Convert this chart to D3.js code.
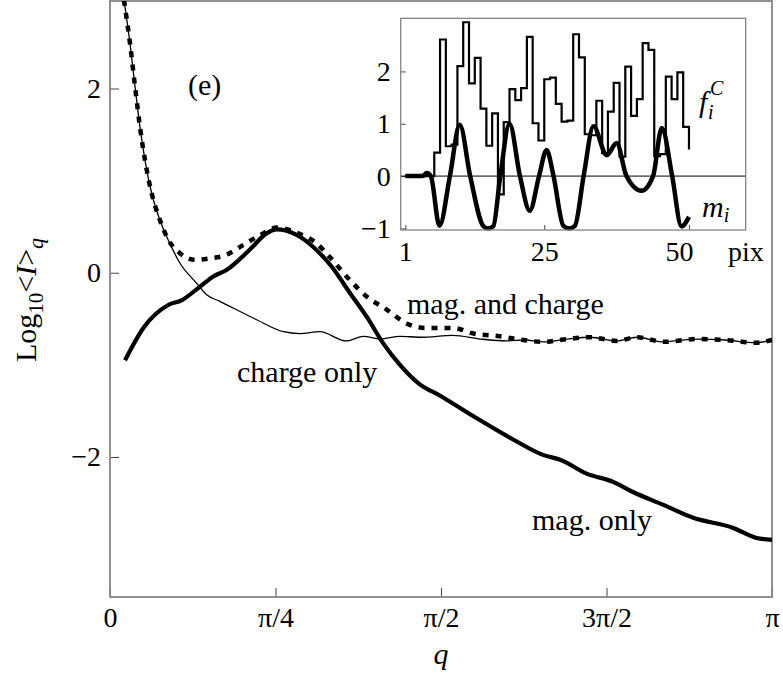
<!DOCTYPE html>
<html>
<head>
<meta charset="utf-8">
<script src="https://cdn.jsdelivr.net/npm/d3@7/dist/d3.min.js"></script>
<style>
  body { margin: 0; background: #fff; }
</style>
</head>
<body>
<svg id="chart" width="783" height="687"></svg>
<script>
// ---- main panel: log10 of averaged intensity vs q (q given in units of pi) ----
const xTickValues = [0, 0.25, 0.5, 0.75, 1];
const xTickLabels = ["0", "π/4", "π/2", "3π/2", "π"];
const yTickValues = [-2, 0, 2];
const yTickLabels = ["−2", "0", "2"];

const chargeQ = [0.0211, 0.0302, 0.0378, 0.0453, 0.0529, 0.063, 0.0755, 0.088, 0.106, 0.131, 0.146, 0.166,
  0.2216, 0.262, 0.287, 0.317, 0.357, 0.383, 0.408, 0.438, 0.47, 0.518, 0.56, 0.60, 0.625, 0.655, 0.69,
  0.725, 0.765, 0.796, 0.836, 0.886, 0.93, 0.975, 1.0];
const chargeV = [2.96, 2.49, 2.02, 1.58, 1.22, 0.86, 0.57, 0.355, 0.10, -0.115, -0.24, -0.31,
  -0.51, -0.64, -0.66, -0.64, -0.74, -0.69, -0.72, -0.69, -0.70, -0.68, -0.72, -0.74, -0.73, -0.75, -0.72,
  -0.70, -0.74, -0.70, -0.75, -0.72, -0.73, -0.76, -0.73];

const bothQ = [0.0211, 0.0302, 0.0378, 0.0453, 0.0529, 0.063, 0.0755, 0.088, 0.106, 0.128, 0.151, 0.174,
  0.201, 0.227, 0.252, 0.284, 0.312, 0.332, 0.3625, 0.388, 0.418, 0.448, 0.478, 0.5185, 0.549, 0.589, 0.614,
  0.655, 0.69, 0.725, 0.765, 0.796, 0.836, 0.886, 0.93, 0.975, 1.0];
const bothV = [2.96, 2.49, 2.02, 1.58, 1.22, 0.86, 0.57, 0.36, 0.21, 0.14, 0.155, 0.19,
  0.30, 0.41, 0.49, 0.43, 0.32, 0.17, -0.08, -0.26, -0.40, -0.55, -0.60, -0.60, -0.66, -0.69, -0.72,
  -0.75, -0.72, -0.70, -0.74, -0.70, -0.75, -0.72, -0.73, -0.76, -0.73];

const magQ = [0.0227, 0.0504, 0.088, 0.108, 0.136, 0.156, 0.176, 0.211, 0.237, 0.252, 0.282, 0.307, 0.335,
  0.3625, 0.388, 0.413, 0.438, 0.466, 0.50, 0.554, 0.609, 0.655, 0.68, 0.72, 0.76, 0.79, 0.836, 0.881,
  0.9415, 0.977, 1.0];
const magV = [-0.95, -0.60, -0.35, -0.30, -0.15, -0.04, 0.03, 0.25, 0.43, 0.47, 0.41, 0.28, 0.065,
  -0.22, -0.48, -0.77, -1.00, -1.20, -1.34, -1.58, -1.81, -1.98, -2.03, -2.18, -2.27, -2.38, -2.52, -2.66,
  -2.77, -2.88, -2.90];

// ---- inset: charge profile f_i^C (per pixel) and magnetisation m_i ----
const fC = [0, 0, 0, 0, 0, 0.45, 2.61, 0.57, 0.60, 2.10, 2.94, 1.77, 2.26, 1.29, 0.58, 1.20, -0.35, 1.03,
  1.66, 1.45, 1.68, 2.66, 1.01, 0.68, 1.85, 1.88, 1.38, 1.04, 1.06, 2.71, 2.27, 0.80, 0.78, 1.44, 0.44,
  1.23, 1.78, 0.37, 2.09, 1.15, 1.47, 2.54, 2.41, 0.38, 0.42, 1.90, 1.47, 1.98, 0.94, 0.51];
const mX = [1, 4, 4.7, 5.4, 6.9, 8.7, 10.4, 12.2, 14.5, 15.3, 16.2, 17.4, 19.0, 20.8, 22.5, 24.1, 25.4, 26.6,
  28.3, 29.3, 30.3, 31.8, 33.5, 35.8, 37.5, 39.2, 41.8, 43.8, 45.3, 47.1, 48.7, 50];
const mV = [0, 0, 0.06, 0, -0.95, 0, 0.98, 0, -0.96, -1.0, -0.96, 0, 1.0, 0, -0.66, 0, 0.5, 0,
  -0.95, -1.0, -0.95, 0, 0.95, 0.40, 0.63, 0, -0.28, 0, 0.92, 0, -0.96, -0.78];
const insetXTicks = [1, 25, 50];
const insetYTicks = [-1, 0, 1, 2];

const svg = d3.select("#chart");
const frameColor = "#858585";
const serif = '"Liberation Serif"';

// helper: serif text appended directly to a parent
function addText(parent, xPos, yPos, size, str) {
  return parent.append("text").attr("x", xPos).attr("y", yPos)
    .attr("font-family", serif).attr("font-size", size).attr("fill", "#000").text(str);
}

// main scales
const x = d3.scaleLinear().domain([0, 1]).range([110, 772]);
const y = d3.scaleLinear().domain([-3.52, 2.95]).range([597, 1]);

svg.append("defs").append("clipPath").attr("id", "plotClip")
  .append("rect").attr("x", x(0)).attr("y", y(2.95))
  .attr("width", x(1) - x(0)).attr("height", y(-3.52) - y(2.95));

// axes (ticks point into the plot)
const xAxis = svg.append("g").attr("transform", `translate(0,${y(-3.52)})`)
  .call(d3.axisBottom(x).tickValues(xTickValues).tickSize(-9).tickPadding(10)
    .tickFormat((d, i) => xTickLabels[i]));
const yAxis = svg.append("g").attr("transform", `translate(${x(0)},0)`)
  .call(d3.axisLeft(y).tickValues(yTickValues).tickSize(-9).tickPadding(9)
    .tickFormat(d => yTickLabels[yTickValues.indexOf(d)]));
[xAxis, yAxis].forEach(g => {
  g.attr("font-family", null);
  g.select(".domain").remove();
  g.selectAll(".tick line").attr("stroke", "#444").attr("stroke-width", 1);
  g.selectAll(".tick text").attr("font-family", serif).attr("font-size", 28);
});

// frame
svg.append("rect").attr("x", x(0)).attr("y", y(2.95))
  .attr("width", x(1) - x(0)).attr("height", y(-3.52) - y(2.95))
  .attr("fill", "none").attr("stroke", frameColor).attr("stroke-width", 1.8);

const curves = svg.append("g").attr("clip-path", "url(#plotClip)");
const lineMain = d3.line().x(d => x(d[0])).y(d => y(d[1])).curve(d3.curveMonotoneX);

curves.append("path").datum(chargeQ.map((q, i) => [q, chargeV[i]]))
  .attr("d", lineMain).attr("fill", "none").attr("stroke", "#000").attr("stroke-width", 1.3);
curves.append("path").datum(bothQ.map((q, i) => [q, bothV[i]]))
  .attr("d", lineMain).attr("fill", "none").attr("stroke", "#000").attr("stroke-width", 4.5)
  .attr("stroke-dasharray", "6,7");
curves.append("path").datum(magQ.map((q, i) => [q, magV[i]]))
  .attr("d", lineMain).attr("fill", "none").attr("stroke", "#000").attr("stroke-width", 4.2)
  .attr("stroke-linecap", "butt").attr("stroke-linejoin", "round");

// curve labels
addText(svg, 188, 95, 30, "(e)");
addText(svg, 407, 314, 30, "mag. and charge");
addText(svg, 237, 382, 30, "charge only");
addText(svg, 532, 530, 30, "mag. only");

// axis titles
addText(svg, 441, 664, 30, "q").attr("text-anchor", "middle").attr("font-style", "italic");
const yl = addText(svg, 0, 0, 30, null).attr("x", null).attr("y", null)
  .attr("transform", "translate(36,300) rotate(-90)").attr("text-anchor", "middle");
yl.append("tspan").text("Log");
yl.append("tspan").attr("font-size", 21).attr("dy", 7).text("10");
yl.append("tspan").attr("dy", -7).text("<");
yl.append("tspan").attr("font-style", "italic").text("I");
yl.append("tspan").text(">");
yl.append("tspan").attr("font-size", 22).attr("dy", 7).attr("font-style", "italic").text("q");

// ---- inset ----
const ix = d3.scaleLinear().domain([0.2, 59.8]).range([400.7, 745.7]);
const iy = d3.scaleLinear().domain([-1.03, 3.015]).range([230, 18.3]);
const inset = svg.append("g");
inset.append("rect").attr("x", ix(0.2)).attr("y", iy(3.015))
  .attr("width", ix(59.8) - ix(0.2)).attr("height", iy(-1.03) - iy(3.015))
  .attr("fill", "#fff");

const ixAxis = inset.append("g").attr("transform", `translate(0,${iy(-1.03)})`)
  .call(d3.axisBottom(ix).tickValues(insetXTicks).tickSize(-5).tickPadding(11).tickFormat(d3.format("d")));
const iyAxis = inset.append("g").attr("transform", `translate(${ix(0.2)},0)`)
  .call(d3.axisLeft(iy).tickValues(insetYTicks).tickSize(-5).tickPadding(10)
    .tickFormat(d => d < 0 ? "−" + Math.abs(d) : String(d)));
[ixAxis, iyAxis].forEach(g => {
  g.attr("font-family", null);
  g.select(".domain").remove();
  g.selectAll(".tick line").attr("stroke", "#444").attr("stroke-width", 1);
  g.selectAll(".tick text").attr("font-family", serif).attr("font-size", 28);
});
ixAxis.selectAll(".tick text").filter(d => d === 50).attr("dx", -10);
addText(inset, ix(50) + 39, iy(-1.03) + 31, 28, "pix");

inset.append("line").attr("x1", ix(0.2)).attr("x2", ix(59.8))
  .attr("y1", iy(0)).attr("y2", iy(0)).attr("stroke", "#000").attr("stroke-width", 1);

inset.append("path").datum(fC.map((v, i) => [i + 1, v]))
  .attr("d", d3.line().x(d => ix(d[0])).y(d => iy(d[1])).curve(d3.curveStepAfter))
  .attr("fill", "none").attr("stroke", "#000").attr("stroke-width", 2.2);

inset.append("path").datum(mX.map((v, i) => [v, mV[i]]))
  .attr("d", d3.line().x(d => ix(d[0])).y(d => iy(d[1])).curve(d3.curveMonotoneX))
  .attr("fill", "none").attr("stroke", "#000").attr("stroke-width", 4.5)
  .attr("stroke-linejoin", "round");

inset.append("rect").attr("x", ix(0.2)).attr("y", iy(3.015))
  .attr("width", ix(59.8) - ix(0.2)).attr("height", iy(-1.03) - iy(3.015))
  .attr("fill", "none").attr("stroke", frameColor).attr("stroke-width", 1.3);

// inset series labels
const fl = addText(inset, 699, 112, 30, null).attr("font-style", "italic");
fl.append("tspan").text("f");
fl.append("tspan").attr("x", 708).attr("dy", 7).attr("font-size", 20).text("i");
fl.append("tspan").attr("x", 710).attr("dy", -24).attr("font-size", 20).text("C");
const ml = addText(inset, 702, 217, 30, null).attr("font-style", "italic");
ml.append("tspan").text("m");
ml.append("tspan").attr("dy", 5).attr("font-size", 20).text("i");
</script>
</body>
</html>
